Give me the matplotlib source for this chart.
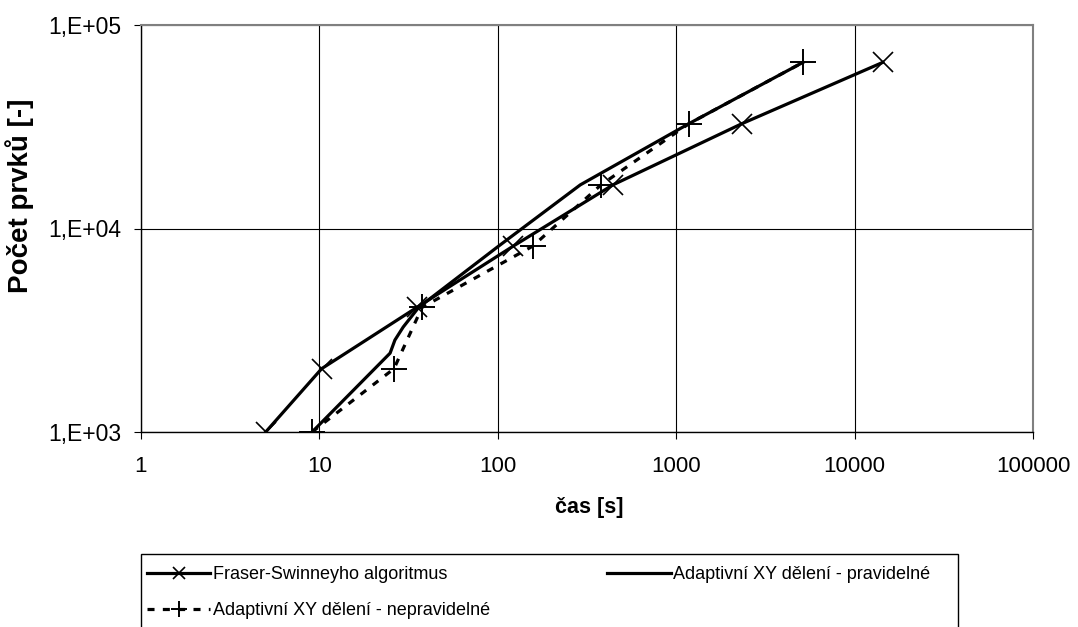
import matplotlib
matplotlib.use("Agg")
import matplotlib.pyplot as plt
from matplotlib.ticker import FixedLocator, FixedFormatter, NullLocator
from matplotlib.patches import Rectangle

plt.rcParams['font.family'] = ['Liberation Sans', 'DejaVu Sans']

# Data
fraser_t = [5.0, 10.3, 35.2, 122, 442, 2340, 14400]
fraser_n = [1000, 2048, 4096, 8192, 16384, 32768, 65536]

prav_t = [9.1, 24.9, 26.5, 29.5, 36, 101, 290, 1180, 5140]
prav_n = [1000, 2440, 2830, 3280, 4096, 8192, 16384, 32768, 65536]

neprav_t = [9.1, 26.2, 37.6, 157, 379, 1180, 5140]
neprav_n = [1000, 2048, 4096, 8192, 16384, 32768, 65536]

x_ticks = [1, 10, 100, 1000, 10000, 100000]
x_labels = ["1", "10", "100", "1000", "10000", "100000"]
y_ticks = [1e3, 1e4, 1e5]
y_labels = ["1,E+03", "1,E+04", "1,E+05"]

W, H = 1078, 627
fig = plt.figure(figsize=(W/100, H/100), dpi=100)
ax = fig.add_axes([141/W, 1-432/H, (1033-141)/W, (432-25)/H])
ax.set_xscale('log')
ax.set_yscale('log')
ax.set_xlim(1, 100000)
ax.set_ylim(1000, 100000)

l1, = ax.plot(fraser_t, fraser_n, color='black', lw=2.3, marker='x',
              markersize=14, markeredgewidth=1.2, zorder=4)
l2, = ax.plot(prav_t, prav_n, color='black', lw=2.3, zorder=3)
l3, = ax.plot(neprav_t, neprav_n, color='black', lw=2.3, marker='+',
              markersize=19, markeredgewidth=1.4, zorder=3)
l3.set_dashes((2.2, 2.6))

ax.xaxis.set_major_locator(FixedLocator(x_ticks))
ax.xaxis.set_major_formatter(FixedFormatter(x_labels))
ax.xaxis.set_minor_locator(NullLocator())
ax.yaxis.set_major_locator(FixedLocator(y_ticks))
ax.yaxis.set_major_formatter(FixedFormatter(y_labels))
ax.yaxis.set_minor_locator(NullLocator())

ax.grid(True, which='major', color='black', lw=0.8, zorder=0)
ax.set_axisbelow(True)
ax.tick_params(axis='both', direction='out', length=5, width=0.8,
               colors='black')
ax.tick_params(axis='x', pad=12, labelsize=16)
ax.tick_params(axis='y', pad=9, labelsize=16.5)
for s in ['left', 'bottom']:
    ax.spines[s].set_color('black')
    ax.spines[s].set_linewidth(1.0)
for s in ['top', 'right']:
    ax.spines[s].set_color('#808080')
    ax.spines[s].set_linewidth(1.5)

fig.text(589/W, 1-508/H, "čas [s]", fontsize=15.5, fontweight='bold',
         ha='center', va='center')
fig.text(20/W, 1-196/H, "Počet prvků [-]", fontsize=20, fontweight='bold',
         ha='center', va='center', rotation=90)

# legend frame
fig.patches.append(Rectangle((141/W, 1-640/H), (958-141)/W, (640-554)/H,
                             transform=fig.transFigure, facecolor='white',
                             edgecolor='black', lw=1.0, zorder=0))

leg = fig.legend([l1, l3, l2],
                 ["Fraser-Swinneyho algoritmus",
                  "Adaptivní XY dělení - nepravidelné",
                  "Adaptivní XY dělení - pravidelné"],
                 loc='upper left', bbox_to_anchor=(147/W, 1-566/H),
                 ncol=2, fontsize=13, frameon=False,
                 handlelength=3.5, handletextpad=0.15,
                 columnspacing=6.5, labelspacing=1.07, borderpad=0,
                 borderaxespad=0, markerscale=0.6)

fig.savefig("out.png", dpi=100)
